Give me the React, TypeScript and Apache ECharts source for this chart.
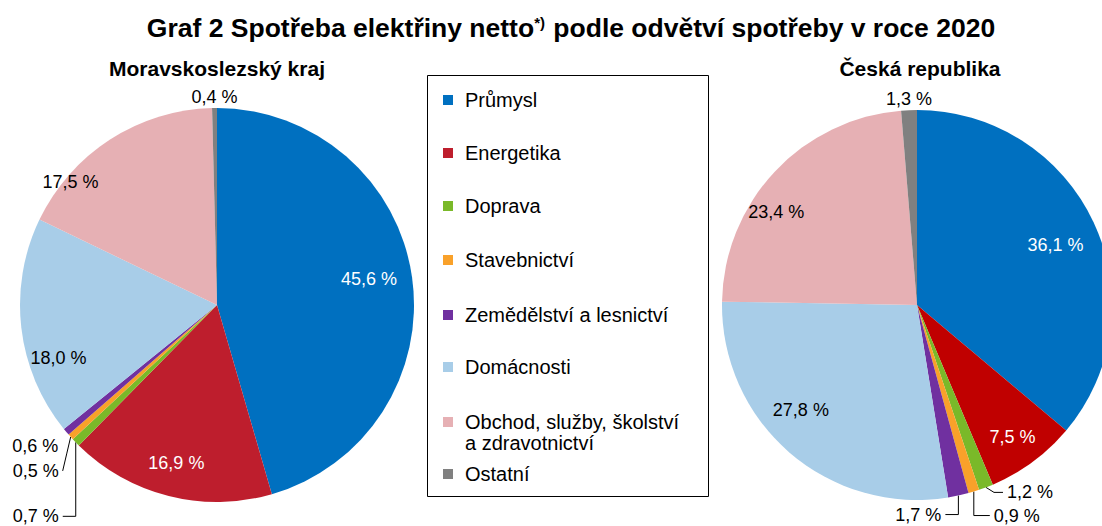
import React, { useEffect, useRef } from 'react';
import * as echarts from 'echarts';

const FONT = 'Arial, "Liberation Sans", Helvetica, sans-serif';

// ---- data ----
const categories = [
  'Průmysl',
  'Energetika',
  'Doprava',
  'Stavebnictví',
  'Zemědělství a lesnictví',
  'Domácnosti',
  'Obchod, služby, školství a zdravotnictví',
  'Ostatní',
];
const legendLabels = [
  'Průmysl',
  'Energetika',
  'Doprava',
  'Stavebnictví',
  'Zemědělství a lesnictví',
  'Domácnosti',
  'Obchod, služby, školství\na zdravotnictví',
  'Ostatní',
];
const moravskoslezskyKraj = [45.6, 16.9, 0.7, 0.5, 0.6, 18.0, 17.5, 0.4];
const ceskaRepublika = [36.1, 7.5, 1.2, 0.9, 1.7, 27.8, 23.4, 1.3];

const titleMain = 'Graf 2 Spotřeba elektřiny netto';
const titleSup = '*)';
const titleRest = ' podle odvětví spotřeby v roce 2020';
const leftTitle = 'Moravskoslezský kraj';
const rightTitle = 'Česká republika';

// ---- styles ----
const leftColors = ['#0070C0', '#BE1E2D', '#7AB929', '#F9A12A', '#7030A0', '#A8CDE8', '#E6B0B4', '#808080'];
const rightColors = ['#0070C0', '#C00000', '#7AB929', '#F9A12A', '#7030A0', '#A8CDE8', '#E6B0B4', '#808080'];
const insideTextColors = ['#fff', '#fff', '#000', '#000', '#000', '#000', '#000', '#000'];
const legendRowY = [100, 153, 206, 260, 315, 367, 422, 474];

type Placement =
  | { mode: 'inside'; nudge?: [number, number] }
  | { mode: 'top' }
  | { mode: 'side'; side: 'left' | 'right'; dx: number; dy: number; line: 'none' | 'straight' | 'elbow' | 'bent' };

const leftPlacements: Placement[] = [
  { mode: 'inside', nudge: [-4, -4] },
  { mode: 'inside', nudge: [-2, 5] },
  { mode: 'side', side: 'left', dx: -17, dy: 74, line: 'elbow' },
  { mode: 'side', side: 'left', dx: -12, dy: 34, line: 'straight' },
  { mode: 'side', side: 'left', dx: -8, dy: 14, line: 'none' },
  { mode: 'inside', nudge: [-2, 35] },
  { mode: 'inside', nudge: [-61, 9] },
  { mode: 'top' },
];
const rightPlacements: Placement[] = [
  { mode: 'inside', nudge: [-3, 6] },
  { mode: 'inside', nudge: [3, 6] },
  { mode: 'side', side: 'right', dx: 21, dy: 5, line: 'bent' },
  { mode: 'side', side: 'right', dx: 20, dy: 24, line: 'elbow' },
  { mode: 'side', side: 'left', dx: -17, dy: 19, line: 'elbow' },
  { mode: 'inside', nudge: [-14, -13] },
  { mode: 'inside', nudge: [-27, 14] },
  { mode: 'top' },
];

const fmt = (v: number) => v.toFixed(1).replace('.', ',') + ' %';

function sliceGeometry(values: number[], cx: number, cy: number, r: number) {
  const total = values.reduce((a, b) => a + b, 0);
  let cum = 0;
  return values.map((v) => {
    const a = ((cum + v / 2) / total) * Math.PI * 2;
    cum += v;
    const ux = Math.sin(a);
    const uy = -Math.cos(a);
    return { ux, uy, ex: cx + r * ux, ey: cy + r * uy };
  });
}

function buildPie(values: number[], cx: number, cy: number, r: number, colors: string[], placements: Placement[]) {
  const geo = sliceGeometry(values, cx, cy, r);
  return {
    type: 'pie',
    center: [cx, cy],
    radius: r,
    startAngle: 90,
    clockwise: true,
    silent: true,
    avoidLabelOverlap: false,
    label: {
      show: true,
      position: 'outside',
      formatter: (p: any) => fmt(p.value),
      fontSize: 18,
      fontFamily: FONT,
      color: '#000',
    },
    labelLine: { show: false, length: 5, length2: 5, lineStyle: { color: '#000', width: 1 } },
    itemStyle: { borderWidth: 0 },
    data: values.map((v, i) => {
      const pl = placements[i];
      const inside = pl.mode === 'inside';
      const hasLine = pl.mode === 'side' && pl.line !== 'none';
      return {
        name: categories[i],
        value: v,
        itemStyle: { color: colors[i] },
        label: { position: inside ? 'inside' : 'outside', color: inside ? insideTextColors[i] : '#000' },
        labelLine: { show: hasLine },
      };
    }),
    labelLayout: (p: any) => {
      const i = p.dataIndex;
      const g = geo[i];
      const pl = placements[i];
      if (pl.mode === 'inside') {
        const [nx, ny] = pl.nudge || [0, 0];
        return { x: cx + 0.8 * r * g.ux + nx, y: cy + 0.8 * r * g.uy + ny, align: 'center', verticalAlign: 'middle' };
      }
      if (pl.mode === 'top') {
        return { x: g.ex, y: g.ey - 2, align: 'center', verticalAlign: 'bottom' };
      }
      const left = pl.side === 'left';
      const ax = g.ex + pl.dx;
      const ay = g.ey + pl.dy;
      const endX = ax + (left ? 4 : -4);
      let pts: number[][] | undefined;
      if (pl.line === 'straight') pts = [[g.ex, g.ey], [(g.ex + endX) / 2, (g.ey + ay) / 2], [endX, ay]];
      else if (pl.line === 'elbow') pts = [[g.ex, g.ey], [g.ex, ay], [endX, ay]];
      else if (pl.line === 'bent') pts = [[g.ex, g.ey], [g.ex + (left ? -8 : 8), ay], [endX, ay]];
      const res: any = { x: ax, y: ay, align: left ? 'right' : 'left', verticalAlign: 'middle' };
      if (pts) res.labelLinePoints = pts;
      return res;
    },
  };
}

export default function App() {
  const ref = useRef<HTMLDivElement>(null);
  useEffect(() => {
    document.body.style.margin = '0';
    const chart = echarts.init(ref.current!, null, { renderer: 'svg' });
    const option: any = {
      animation: false,
      backgroundColor: '#fff',
      textStyle: { fontFamily: FONT },
      title: [
        {
          text: `{t|${titleMain}}{s|${titleSup}}{t|${titleRest}}`,
          left: 571,
          top: 28,
          textAlign: 'center',
          textVerticalAlign: 'middle',
          padding: 0,
          textStyle: {
            rich: {
              t: { fontSize: 26.5, fontWeight: 'bold', fontFamily: FONT, color: '#000' },
              s: { fontSize: 15, fontWeight: 'bold', fontFamily: FONT, color: '#000', verticalAlign: 'top', padding: [0, 1, 0, 0] },
            },
          },
        },
        {
          text: leftTitle,
          left: 217,
          top: 68,
          textAlign: 'center',
          textVerticalAlign: 'middle',
          padding: 0,
          textStyle: { fontSize: 21, fontWeight: 'bold', fontFamily: FONT, color: '#000' },
        },
        {
          text: rightTitle,
          left: 920,
          top: 68,
          textAlign: 'center',
          textVerticalAlign: 'middle',
          padding: 0,
          textStyle: { fontSize: 21, fontWeight: 'bold', fontFamily: FONT, color: '#000' },
        },
      ],
      graphic: [
        {
          type: 'rect',
          silent: true,
          shape: { x: 427.5, y: 75.5, width: 281, height: 421 },
          style: { fill: 'none', stroke: '#000', lineWidth: 1 },
        },
        ...legendLabels.map((_, i) => ({
          type: 'rect',
          silent: true,
          shape: { x: 443, y: legendRowY[i] - 5, width: 10, height: 10 },
          style: { fill: leftColors[i] },
        })),
        ...legendLabels.map((t, i) => ({
          type: 'text',
          silent: true,
          x: 465,
          y: legendRowY[i] - 10.5,
          style: {
            text: t,
            fontSize: 20,
            lineHeight: 21,
            fontFamily: FONT,
            fill: '#000',
            verticalAlign: 'top',
            align: 'left',
          },
        })),
      ],
      series: [
        buildPie(moravskoslezskyKraj, 217, 305, 197, leftColors, leftPlacements),
        buildPie(ceskaRepublika, 917, 305, 195, rightColors, rightPlacements),
      ],
    };
    chart.setOption(option);
    return () => chart.dispose();
  }, []);
  return <div ref={ref} style={{ width: 1102, height: 526 }} />;
}
